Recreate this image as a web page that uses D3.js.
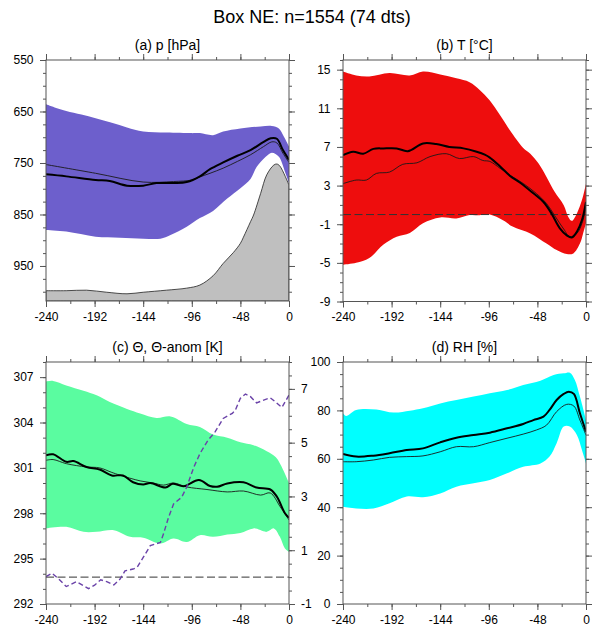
<!DOCTYPE html>
<html lang="en">
<head>
<meta charset="UTF-8">
<title>Box NE</title>
<script src="https://cdn.jsdelivr.net/npm/d3@7"></script>
<style>
body { margin: 0; background: #fff; }
svg { font-family: "Liberation Sans", Arial, Helvetica, sans-serif; }
</style>
</head>
<body>
<script>
var title = 'Box NE: n=1554 (74 dts)';
var panelTitles = ['(a) p [hPa]', '(b) T [\u00b0C]', '(c) \u0398, \u0398-anom [K]', '(d) RH [%]'];

var hourTicks = [-240, -192, -144, -96, -48, 0];
var pTicks = [550, 650, 750, 850, 950];
var tTicks = [-9, -5, -1, 3, 7, 11, 15];
var thTicks = [292, 295, 298, 301, 304, 307];
var anomTicks = [-1, 1, 3, 5, 7];
var rhTicks = [0, 20, 40, 60, 80, 100];

// (a) pressure [hour, hPa]
var pUpper = [[-240,636],[-230,643],[-220,649],[-205,656],[-191,663],[-175,672],[-160,681],[-144,689],[-121,691],[-96,692],[-88,692],[-75,696],[-65,689],[-48,683],[-28,679],[-17,678],[-10,683],[-5,699],[0,718]];
var pLower = [[-240,880],[-220,883],[-191,893],[-167,895],[-144,897],[-127,897],[-117,890],[-101,874],[-88,857],[-75,843],[-61,819],[-48,799],[-38,781],[-32,758],[-23,738],[-17,730],[-10,738],[-4,767],[0,789]];
var pMean = [[-240,772],[-220,776],[-191,783],[-177,785],[-160,794],[-144,794],[-131,789],[-114,789],[-101,787],[-88,776],[-78,762],[-65,749],[-51,736],[-38,725],[-25,709],[-18,702],[-12,703],[-6,725],[0,744]];
var pMedian = [[-240,753],[-191,770],[-144,787],[-114,786],[-96,783],[-88,777],[-78,770],[-65,760],[-51,747],[-38,734],[-25,718],[-17,709],[-12,711],[-6,731],[0,749]];
var pSurface = [[-240,998],[-220,998],[-200,997],[-180,1001],[-160,1004],[-144,1001],[-121,997],[-101,993],[-88,987],[-75,969],[-65,945],[-55,924],[-48,906],[-45,894],[-38,864],[-35,851],[-28,809],[-22,773],[-15,754],[-12,752],[-9,756],[0,793]];

// (b) temperature
var tUpper = [[-240,14.8],[-227,14.4],[-214,14.3],[-194,14.65],[-174,14.4],[-161,14.8],[-144,14.5],[-128,14.1],[-115,13.7],[-105,12.9],[-95,11.8],[-85,10.3],[-75,8.7],[-62,6.9],[-55,6.3],[-47,5.3],[-39,3.9],[-31,2.35],[-22,0.97],[-17.5,-0.24],[-14,-0.65],[-9,0.12],[-4,1.5],[0,3.2]];
var tLower = [[-240,-5.2],[-227,-5.0],[-214,-4.5],[-200,-3.1],[-187,-2.3],[-174,-1.9],[-161,-0.9],[-144,-0.3],[-128,-0.4],[-115,-0.05],[-105,-0.06],[-95,0],[-82,-0.6],[-72,-1.27],[-55,-1.95],[-39,-3.0],[-29,-3.68],[-19,-4.09],[-12.5,-4.02],[-6,-3.0],[-3,-2.0],[0,-0.9]];
var tMean = [[-240,6.15],[-230,6.5],[-220,6.3],[-210,6.8],[-200,6.85],[-187,6.85],[-176,6.56],[-161,7.36],[-148,7.3],[-135,7.0],[-121,6.85],[-108,6.5],[-100,6.2],[-95,5.9],[-85,5.0],[-75,4.0],[-65,3.3],[-52,2.2],[-42,1.3],[-34,0.1],[-26,-1.4],[-19,-2.15],[-14,-2.37],[-9,-1.78],[-4,-0.58],[0,1.3]];
var tMedian = [[-240,3.2],[-227,3.57],[-217,3.57],[-207,4.26],[-194,4.4],[-181,5.2],[-167,5.36],[-154,6.0],[-138,6.3],[-125,5.8],[-111,6.0],[-102,5.6],[-95,5.5],[-85,4.8],[-75,4.07],[-62,3.22],[-49,2.18],[-39,1.15],[-31,-0.1],[-22,-1.5],[-16,-2.3],[-9,-1.95],[-4,-0.92],[0,0.7]];

// (c) potential temperature and anomaly
var thUpper = [[-240,306.7],[-233,306.75],[-220,306.45],[-203,306.1],[-190,305.8],[-177,305.35],[-160,304.9],[-147,304.6],[-131,304.3],[-117,304.4],[-101,303.9],[-88,303.7],[-75,303.2],[-61,303.0],[-48,302.7],[-35,302.5],[-22,302.1],[-13,301.7],[-6,300.9],[0,300.0]];
var thLower = [[-240,297.0],[-220,297.1],[-203,296.77],[-190,296.77],[-173,296.88],[-157,296.44],[-144,296.38],[-127,296.0],[-114,296.33],[-101,296.1],[-88,296.55],[-75,296.44],[-61,296.6],[-48,296.7],[-35,297.0],[-22,296.77],[-15,297.0],[-9,296.44],[-4,295.67],[0,295.45]];
var thMean = [[-240,301.83],[-233,301.9],[-220,301.4],[-213,301.45],[-200,301.06],[-187,300.89],[-175,300.5],[-164,300.5],[-154,300.05],[-144,299.9],[-137,300.0],[-122,299.7],[-115,299.95],[-104,299.79],[-89,300.2],[-78,299.8],[-71,299.75],[-61,299.97],[-45,300.05],[-32,299.7],[-18.5,299.57],[-12,299.1],[-4,298.0],[0,297.7]];
var thMedian = [[-240,301.5],[-233,301.55],[-220,301.28],[-200,301.06],[-187,301.0],[-175,300.7],[-167,300.52],[-147,300.14],[-134,300.0],[-124,299.86],[-114,300.0],[-101,299.74],[-81,299.57],[-61,299.41],[-45,299.47],[-28,299.2],[-18.5,299.34],[-8.6,298.42],[0,297.55]];
var thAnom = [[-240,0.02],[-234,0.14],[-228,-0.05],[-220,-0.35],[-210,-0.17],[-198,-0.43],[-192,-0.3],[-186,-0.1],[-180,-0.17],[-173,-0.29],[-167,-0.08],[-162,0.23],[-154,0.3],[-150,0.36],[-144,0.73],[-137,1.17],[-127,1.29],[-124,1.6],[-119,2.22],[-114,2.72],[-106,2.97],[-101,3.35],[-94,4.09],[-88,4.59],[-80,5.09],[-73,5.4],[-65,5.9],[-56,6.09],[-53,6.21],[-48,6.65],[-43,6.81],[-38,6.71],[-32,6.48],[-25,6.58],[-18.5,6.67],[-13.5,6.52],[-7,6.31],[0,6.77]];

// (d) relative humidity
var rhUpper = [[-240,78.8],[-237,77.7],[-227,80.2],[-207,80.4],[-190,79.1],[-174,79.9],[-161,80.9],[-144,82.9],[-128,84.3],[-111,85.7],[-95,87.1],[-78,88.4],[-62,90.5],[-45,92.3],[-32,94.6],[-22,95.3],[-16,95.6],[-11,92.6],[-6,85.7],[0,76.0]];
var rhLower = [[-240,40.2],[-227,39.5],[-210,39.5],[-194,41.6],[-177,44.4],[-161,44.1],[-144,45.7],[-128,48.5],[-111,49.9],[-95,51.2],[-78,54.0],[-62,56.7],[-45,58.1],[-36,60.9],[-29,66.4],[-22,73.3],[-16,73.3],[-9,69.8],[-4,63.6],[0,58.1]];
var rhMean = [[-240,62.0],[-227,60.9],[-210,61.3],[-194,62.3],[-177,63.6],[-161,64.3],[-144,66.8],[-128,68.7],[-111,69.8],[-95,70.8],[-78,72.6],[-62,74.4],[-52,76.0],[-42,77.4],[-36,80.2],[-29,84.3],[-22,86.8],[-17,87.7],[-12,86.8],[-6,78.8],[0,71.2]];
var rhMedian = [[-240,58.8],[-227,58.8],[-210,59.5],[-194,60.6],[-177,60.9],[-161,61.2],[-144,62.9],[-128,65.0],[-111,65.0],[-95,66.7],[-78,68.5],[-62,70.2],[-49,71.9],[-39,73.9],[-29,79.5],[-19,82.5],[-12,81.8],[-6,76.0],[0,69.8]];

var width = 593, height = 630;
var svg = d3.select('body').append('svg')
    .attr('width', width)
    .attr('height', height);

svg.append('text')
    .text(title)
    .attr('x', 312)
    .attr('y', 23)
    .attr('text-anchor', 'middle')
    .style('font-size', '18px');

var axisColor = '#555';

function styleAxis(g, labels) {
    g.selectAll('.domain').remove();
    g.selectAll('line').attr('stroke', axisColor);
    g.selectAll('text').style('font-size', '12px').attr('fill', '#000');
    if (!labels) g.selectAll('text').remove();
}

function panel(o) {
    var x = d3.scaleLinear().domain([-240, 0]).range([o.left, o.right]);
    var y = d3.scaleLinear().domain(o.yDomain).range([o.bottom, o.top]);
    var g = svg.append('g');

    g.append('clipPath').attr('id', 'clip' + o.id)
        .append('rect')
        .attr('x', o.left).attr('y', o.top)
        .attr('width', o.right - o.left).attr('height', o.bottom - o.top);
    var plot = g.append('g').attr('clip-path', 'url(#clip' + o.id + ')');

    var line = d3.line()
        .x(d => x(d[0]))
        .y(d => y(d[1]))
        .curve(d3.curveCatmullRom.alpha(0.5));

    // spread band: upper edge forward, lower edge back
    var bandPath = line(o.upper) + line(o.lower.slice().reverse()).replace(/^M/, 'L') + 'Z';
    plot.append('path')
        .attr('d', bandPath)
        .style('fill', o.color);

    if (o.surface) {
        var area = d3.area()
            .x(d => x(d[0]))
            .y0(o.bottom)
            .y1(d => y(d[1]))
            .curve(d3.curveCatmullRom.alpha(0.5));
        plot.append('path')
            .attr('d', area(o.surface))
            .style('fill', '#bfbfbf')
            .style('stroke', '#222')
            .style('stroke-width', 0.8);
    }

    var y2;
    if (o.y2Domain) {
        y2 = d3.scaleLinear().domain(o.y2Domain).range([o.bottom, o.top]);
    }
    if (o.zeroLine) {
        var yz = o.y2Domain ? y2(0) : y(0);
        plot.append('line')
            .attr('x1', o.left).attr('x2', o.right)
            .attr('y1', yz).attr('y2', yz)
            .style('stroke', '#333')
            .style('stroke-width', 1)
            .style('stroke-dasharray', '8,3.5');
    }

    plot.append('path')
        .attr('d', line(o.median))
        .style('fill', 'none')
        .style('stroke', '#1a1a1a')
        .style('stroke-width', 0.9);

    plot.append('path')
        .attr('d', line(o.mean))
        .style('fill', 'none')
        .style('stroke', '#000')
        .style('stroke-width', 2);

    if (o.anom) {
        var line2 = d3.line()
            .x(d => x(d[0]))
            .y(d => y2(d[1]));
        plot.append('path')
            .attr('d', line2(o.anom))
            .style('fill', 'none')
            .style('stroke', '#6a42a8')
            .style('stroke-width', 1.4)
            .style('stroke-dasharray', '5,3');
    }

    // frame
    g.append('rect')
        .attr('x', o.left).attr('y', o.top)
        .attr('width', o.right - o.left).attr('height', o.bottom - o.top)
        .style('fill', 'none')
        .style('stroke', axisColor)
        .style('stroke-width', 1);

    var xMinor = d3.range(-240, 1, 24);
    var fmt = d => String(d);

    g.append('g').attr('transform', `translate(0,${o.bottom})`)
        .call(d3.axisBottom(x).tickValues(hourTicks).tickSize(6).tickPadding(5).tickFormat(fmt))
        .call(a => styleAxis(a, true));
    g.append('g').attr('transform', `translate(0,${o.bottom})`)
        .call(d3.axisBottom(x).tickValues(xMinor).tickSize(3).tickFormat(''))
        .call(a => styleAxis(a, false));
    g.append('g').attr('transform', `translate(0,${o.top})`)
        .call(d3.axisTop(x).tickValues(hourTicks).tickSize(6).tickFormat(''))
        .call(a => styleAxis(a, false));
    g.append('g').attr('transform', `translate(0,${o.top})`)
        .call(d3.axisTop(x).tickValues(xMinor).tickSize(3).tickFormat(''))
        .call(a => styleAxis(a, false));

    g.append('g').attr('transform', `translate(${o.left},0)`)
        .call(d3.axisLeft(y).tickValues(o.yTicks).tickSize(6).tickPadding(6.5).tickFormat(fmt))
        .call(a => styleAxis(a, true));
    g.append('g').attr('transform', `translate(${o.left},0)`)
        .call(d3.axisLeft(y).tickValues(o.yMinor).tickSize(3).tickFormat(''))
        .call(a => styleAxis(a, false));

    var yr = o.y2Domain ? y2 : y;
    g.append('g').attr('transform', `translate(${o.right},0)`)
        .call(d3.axisRight(yr).tickValues(o.y2Ticks || o.yTicks).tickSize(6).tickPadding(6).tickFormat(fmt))
        .call(a => styleAxis(a, !!o.y2Domain));
    g.append('g').attr('transform', `translate(${o.right},0)`)
        .call(d3.axisRight(yr).tickValues(o.y2Minor || o.yMinor).tickSize(3).tickFormat(''))
        .call(a => styleAxis(a, false));

    g.append('text')
        .text(o.title)
        .attr('x', (o.left + o.right) / 2)
        .attr('y', o.top - 10)
        .attr('text-anchor', 'middle')
        .style('font-size', '14px');
}

panel({
    id: 'a', title: panelTitles[0],
    left: 46, right: 289, top: 60, bottom: 301,
    yDomain: [1018, 550], yTicks: pTicks, yMinor: d3.range(550, 1018, 25),
    upper: pUpper, lower: pLower, mean: pMean, median: pMedian,
    surface: pSurface, color: '#6d5fcc'
});

panel({
    id: 'b', title: panelTitles[1],
    left: 343, right: 586, top: 60, bottom: 301.5,
    yDomain: [-9, 16], yTicks: tTicks, yMinor: d3.range(-9, 16.5, 1),
    upper: tUpper, lower: tLower, mean: tMean, median: tMedian,
    zeroLine: true, color: '#ee0d0d'
});

panel({
    id: 'c', title: panelTitles[2],
    left: 46, right: 289, top: 362, bottom: 604,
    yDomain: [292, 308], yTicks: thTicks, yMinor: d3.range(292, 308.5, 1),
    y2Domain: [-1, 8], y2Ticks: anomTicks, y2Minor: d3.range(-1, 8.1, 0.5),
    upper: thUpper, lower: thLower, mean: thMean, median: thMedian,
    anom: thAnom, zeroLine: true, color: '#5afca0'
});

panel({
    id: 'd', title: panelTitles[3],
    left: 343, right: 586, top: 362, bottom: 604,
    yDomain: [0, 100], yTicks: rhTicks, yMinor: d3.range(0, 101, 5),
    upper: rhUpper, lower: rhLower, mean: rhMean, median: rhMedian,
    color: '#00ffff'
});
</script>
</body>
</html>
